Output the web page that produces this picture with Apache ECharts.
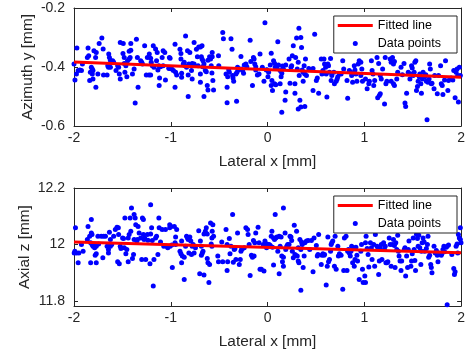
<!DOCTYPE html>
<html>
<head>
<meta charset="utf-8">
<script src="https://cdn.jsdelivr.net/npm/echarts@6/dist/echarts.min.js"></script>
<style>
  html, body { margin: 0; padding: 0; background: #fff; }
  #chart { width: 468px; height: 350px; }
</style>
</head>
<body>
<div id="chart"></div>
<script>
// tick values
const xTicks = [-2, -1, 0, 1, 2];
const azimuthTicks = [-0.6, -0.4, -0.2];
const axialTicks = [11.8, 12, 12.2];

// fitted lines (end points)
const fitX = [-2, 2];
const fitAzimuth = [-0.383, -0.435];
const fitAxial = [12.009, 11.971];

// measured points, top panel: [lateral x, azimuth y]
const azimuthPoints = [
  [-2.00,-0.390],[-1.97,-0.336],[-1.99,-0.444],[-1.975,-0.424],[-1.957,-0.412],[-1.94,-0.410],[-1.923,-0.412],[-1.913,-0.390],
  [-1.862,-0.368],[-1.848,-0.362],[-1.855,-0.336],[-1.838,-0.446],[-1.831,-0.418],[-1.821,-0.401],[-1.811,-0.407],[-1.804,-0.412],
  [-1.811,-0.424],[-1.794,-0.345],[-1.777,-0.368],[-1.77,-0.351],[-1.804,-0.441],[-1.774,-0.469],[-1.753,-0.424],[-1.74,-0.320],
  [-1.712,-0.302],[-1.699,-0.339],[-1.695,-0.427],[-1.658,-0.427],[-1.641,-0.356],[-1.634,-0.368],[-1.624,-0.377],[-1.617,-0.384],
  [-1.651,-0.396],[-1.644,-0.401],[-1.624,-0.401],[-1.60,-0.379],[-1.59,-0.384],[-1.566,-0.412],[-1.549,-0.396],[-1.539,-0.401],
  [-1.532,-0.424],[-1.522,-0.441],[-1.522,-0.317],[-1.491,-0.320],[-1.494,-0.354],[-1.481,-0.368],[-1.481,-0.388],[-1.464,-0.396],
  [-1.447,-0.379],[-1.43,-0.373],[-1.42,-0.368],[-1.43,-0.347],[-1.413,-0.343],[-1.413,-0.320],[-1.474,-0.418],[-1.454,-0.433],
  [-1.396,-0.424],[-1.379,-0.407],[-1.355,-0.306],[-1.345,-0.368],[-1.338,-0.469],[-1.368,-0.522],[-1.311,-0.379],[-1.30,-0.384],
  [-1.293,-0.390],[-1.27,-0.328],[-1.253,-0.427],[-1.225,-0.427],[-1.208,-0.427],[-1.242,-0.368],[-1.222,-0.356],[-1.208,-0.370],
  [-1.202,-0.384],[-1.191,-0.396],[-1.174,-0.401],[-1.181,-0.328],[-1.157,-0.339],[-1.14,-0.351],[-1.147,-0.379],[-1.123,-0.396],
  [-1.133,-0.410],[-1.116,-0.437],[-1.12,-0.463],[-1.089,-0.368],[-1.079,-0.345],[-1.062,-0.351],[-1.106,-0.399],[-1.079,-0.396],
  [-1.055,-0.444],[-1.021,-0.404],[-1.014,-0.368],
  [-1.007,-0.370],[-1.014,-0.405],[-0.99,-0.407],[-0.973,-0.412],[-0.956,-0.323],[-0.95,-0.418],[-0.939,-0.427],[-0.956,-0.469],
  [-0.905,-0.340],[-0.895,-0.354],[-0.895,-0.373],[-0.888,-0.421],[-0.888,-0.435],[-0.871,-0.390],[-0.861,-0.384],[-0.847,-0.295],
  [-0.854,-0.396],[-0.837,-0.401],[-0.827,-0.345],[-0.82,-0.427],[-0.82,-0.500],[-0.813,-0.390],[-0.803,-0.351],[-0.793,-0.396],
  [-0.786,-0.412],[-0.779,-0.388],[-0.779,-0.441],[-0.759,-0.317],[-0.759,-0.390],[-0.735,-0.340],[-0.725,-0.365],[-0.718,-0.396],
  [-0.711,-0.332],[-0.694,-0.332],[-0.677,-0.328],[-0.694,-0.424],[-0.694,-0.452],[-0.684,-0.365],[-0.677,-0.373],[-0.667,-0.379],
  [-0.657,-0.390],[-0.67,-0.399],[-0.657,-0.500],[-0.643,-0.412],[-0.633,-0.416],[-0.623,-0.463],[-0.616,-0.478],[-0.616,-0.377],
  [-0.599,-0.365],[-0.589,-0.373],[-0.572,-0.365],[-0.582,-0.396],[-0.572,-0.351],[-0.565,-0.446],[-0.558,-0.478],[-0.575,-0.420],
  [-0.507,-0.362],[-0.504,-0.396],[-0.463,-0.283],[-0.456,-0.304],[-0.429,-0.424],[-0.418,-0.469],[-0.418,-0.521],[-0.412,-0.433],
  [-0.401,-0.410],[-0.395,-0.418],[-0.378,-0.304],[-0.367,-0.340],[-0.361,-0.429],[-0.357,-0.437],[-0.35,-0.448],[-0.327,-0.424],
  [-0.316,-0.418],[-0.32,-0.516],[-0.31,-0.401],[-0.303,-0.410],[-0.275,-0.364],[-0.275,-0.407],[-0.258,-0.412],[-0.248,-0.421],
  [-0.241,-0.393],[-0.224,-0.390],[-0.214,-0.399],[-0.18,-0.309],[-0.173,-0.381],[-0.156,-0.463],[-0.146,-0.368],[-0.139,-0.373],
  [-0.132,-0.390],[-0.122,-0.399],[-0.122,-0.410],[-0.105,-0.427],[-0.088,-0.424],[-0.078,-0.356],[-0.054,-0.401],[-0.037,-0.448],
  [-0.027,-0.250],[-0.013,-0.410],
  [-0.006,-0.409],[0.004,-0.433],[0.011,-0.418],[0.028,-0.393],[0.038,-0.463],[0.045,-0.446],[0.051,-0.480],[0.038,-0.353],
  [0.062,-0.379],[0.072,-0.387],[0.079,-0.401],[0.089,-0.396],[0.072,-0.457],[0.085,-0.460],[0.106,-0.314],[0.096,-0.401],
  [0.113,-0.393],[0.13,-0.412],[0.14,-0.433],[0.147,-0.421],[0.13,-0.457],[0.154,-0.397],[0.164,-0.407],[0.181,-0.513],
  [0.188,-0.485],[0.147,-0.553],[0.188,-0.393],[0.222,-0.373],[0.232,-0.455],[0.242,-0.401],[0.249,-0.396],[0.256,-0.362],
  [0.266,-0.328],[0.283,-0.457],[0.283,-0.489],[0.29,-0.368],[0.30,-0.302],[0.307,-0.407],[0.317,-0.384],[0.324,-0.269],
  [0.344,-0.300],[0.327,-0.429],[0.334,-0.513],[0.344,-0.536],[0.317,-0.542],[0.351,-0.334],[0.358,-0.410],[0.368,-0.448],
  [0.368,-0.418],[0.378,-0.396],[0.385,-0.424],[0.385,-0.534],[0.392,-0.373],[0.402,-0.429],[0.426,-0.405],[0.47,-0.405],
  [0.487,-0.289],[0.47,-0.480],[0.504,-0.446],[0.514,-0.437],[0.528,-0.489],[0.555,-0.373],[0.562,-0.424],[0.572,-0.412],
  [0.583,-0.373],[0.589,-0.390],[0.60,-0.401],[0.606,-0.424],[0.613,-0.502],[0.623,-0.390],[0.63,-0.396],[0.64,-0.418],
  [0.657,-0.446],[0.664,-0.429],[0.651,-0.371],[0.685,-0.418],[0.691,-0.457],[0.709,-0.448],[0.719,-0.441],[0.726,-0.433],
  [0.743,-0.424],[0.76,-0.424],[0.777,-0.379],[0.787,-0.407],[0.821,-0.446],[0.828,-0.506],[0.845,-0.412],[0.862,-0.418],
  [0.869,-0.429],[0.879,-0.452],[0.896,-0.396],[0.903,-0.410],[0.913,-0.424],[0.923,-0.448],[0.937,-0.390],[0.947,-0.379],
  [0.964,-0.384],[0.974,-0.407],[0.981,-0.448],[0.964,-0.429],
  [1.012,-0.441],[1.029,-0.474],[1.046,-0.457],[1.052,-0.448],[1.073,-0.379],[1.08,-0.412],[1.09,-0.424],[1.097,-0.463],
  [1.107,-0.446],[1.131,-0.368],[1.138,-0.504],[1.148,-0.388],[1.155,-0.497],[1.165,-0.491],[1.165,-0.429],[1.175,-0.441],
  [1.189,-0.407],[1.209,-0.525],[1.216,-0.368],[1.223,-0.457],[1.233,-0.448],[1.267,-0.373],[1.277,-0.384],[1.291,-0.368],
  [1.301,-0.390],[1.311,-0.381],[1.277,-0.448],[1.301,-0.457],[1.311,-0.463],[1.335,-0.441],[1.345,-0.418],[1.379,-0.401],
  [1.393,-0.426],[1.41,-0.388],[1.42,-0.522],[1.427,-0.534],[1.437,-0.489],[1.454,-0.418],[1.471,-0.441],[1.481,-0.424],
  [1.488,-0.396],[1.495,-0.403],[1.505,-0.429],[1.515,-0.418],[1.522,-0.384],[1.532,-0.379],[1.539,-0.480],[1.549,-0.466],
  [1.556,-0.448],[1.567,-0.433],[1.573,-0.424],[1.584,-0.457],[1.59,-0.489],[1.60,-0.441],[1.607,-0.418],[1.618,-0.433],
  [1.624,-0.433],[1.635,-0.426],[1.641,-0.448],[1.648,-0.579],[1.658,-0.452],[1.669,-0.441],[1.675,-0.390],[1.682,-0.407],
  [1.692,-0.457],[1.699,-0.455],[1.72,-0.474],[1.727,-0.429],[1.754,-0.491],[1.767,-0.429],[1.788,-0.396],[1.795,-0.457],
  [1.805,-0.463],[1.812,-0.493],[1.829,-0.444],[1.839,-0.379],[1.863,-0.480],[1.87,-0.446],[1.897,-0.437],[1.914,-0.444],
  [1.924,-0.412],[1.938,-0.504],[1.948,-0.418],[1.958,-0.407],[1.965,-0.429],[1.972,-0.519],[1.982,-0.401],[1.992,-0.429]
];

// measured points, bottom panel: [lateral x, axial z]
const axialPoints = [
  [-1.985,12.059],[-1.991,11.976],[-1.998,11.970],[-1.975,11.970],[-1.957,11.935],[-1.95,11.970],[-1.923,12.000],[-1.906,11.976],
  [-1.862,12.018],[-1.855,12.064],[-1.838,12.029],[-1.828,11.935],[-1.821,12.088],[-1.821,12.041],[-1.814,12.035],[-1.828,12.006],
  [-1.814,12.000],[-1.804,11.994],[-1.794,12.000],[-1.787,11.988],[-1.77,11.994],[-1.781,11.962],[-1.77,11.967],[-1.77,11.935],
  [-1.753,12.029],[-1.746,12.002],[-1.719,12.029],[-1.702,11.953],[-1.695,12.029],[-1.675,12.029],[-1.658,11.994],[-1.644,11.982],
  [-1.634,12.000],[-1.624,11.994],[-1.644,11.970],[-1.634,12.043],[-1.624,12.018],[-1.61,12.000],[-1.59,12.029],[-1.573,12.053],
  [-1.556,12.061],[-1.542,12.059],[-1.549,11.939],[-1.532,11.932],[-1.539,12.035],[-1.522,11.994],[-1.515,11.986],[-1.498,12.023],
  [-1.488,12.021],[-1.481,11.988],[-1.474,12.094],[-1.464,11.967],[-1.454,11.982],[-1.44,12.023],[-1.44,11.939],[-1.43,12.035],
  [-1.42,12.094],[-1.413,12.047],[-1.406,12.129],[-1.396,11.950],[-1.385,11.964],[-1.379,12.106],[-1.368,12.094],[-1.362,12.070],
  [-1.379,12.018],[-1.351,12.012],[-1.345,12.018],[-1.338,12.064],[-1.327,12.041],[-1.311,12.023],[-1.30,11.947],[-1.293,12.094],
  [-1.283,12.088],[-1.283,12.035],[-1.276,12.018],[-1.27,12.023],[-1.259,11.947],[-1.242,12.035],[-1.236,12.015],[-1.215,11.932],
  [-1.208,12.141],[-1.208,12.037],[-1.198,12.059],[-1.191,12.014],[-1.181,11.853],[-1.174,11.947],[-1.157,12.023],[-1.147,12.029],
  [-1.133,11.964],[-1.123,12.094],[-1.12,12.059],[-1.106,12.009],[-1.089,12.053],[-1.072,11.994],[-1.055,12.053],[-1.045,11.994],
  [-1.031,11.988],[-1.011,12.070],[-1.011,12.059],
  [-1.007,11.994],[-0.99,11.998],[-0.997,12.064],[-0.963,12.064],[-0.95,12.026],[-0.956,12.006],[-0.95,12.000],[-0.939,12.053],
  [-0.984,11.918],[-0.905,11.976],[-0.895,11.967],[-0.888,11.935],[-0.888,12.012],[-0.881,11.959],[-0.861,11.955],[-0.861,11.876],
  [-0.847,11.994],[-0.837,12.029],[-0.827,12.023],[-0.82,12.018],[-0.813,11.970],[-0.803,12.026],[-0.793,12.012],[-0.786,11.964],
  [-0.779,11.994],[-0.769,12.000],[-0.759,11.970],[-0.745,11.988],[-0.711,12.049],[-0.701,11.896],[-0.694,12.012],[-0.684,11.994],
  [-0.684,11.962],[-0.674,11.970],[-0.667,11.976],[-0.657,11.892],[-0.657,12.037],[-0.643,12.047],[-0.633,12.059],[-0.623,12.037],
  [-0.623,11.950],[-0.616,11.935],[-0.606,11.865],[-0.599,11.929],[-0.589,12.076],[-0.582,12.002],[-0.575,11.994],[-0.572,12.047],
  [-0.565,12.070],[-0.558,12.029],[-0.575,12.023],[-0.514,11.959],[-0.507,11.939],[-0.473,12.009],[-0.463,11.939],[-0.429,12.053],
  [-0.418,11.908],[-0.412,11.939],[-0.418,12.000],[-0.395,12.021],[-0.388,11.967],[-0.378,11.994],[-0.361,12.106],[-0.354,11.937],
  [-0.344,11.982],[-0.337,11.986],[-0.327,11.947],[-0.31,12.041],[-0.292,11.929],[-0.282,11.947],[-0.275,11.976],[-0.269,11.982],
  [-0.258,11.986],[-0.241,11.988],[-0.224,12.059],[-0.207,12.053],[-0.201,12.035],[-0.19,12.000],[-0.18,11.890],[-0.167,11.962],
  [-0.156,11.955],[-0.139,11.959],[-0.146,12.014],[-0.132,12.006],[-0.122,12.041],[-0.098,12.061],[-0.088,12.006],[-0.078,11.912],
  [-0.064,11.912],[-0.037,11.906],[-0.044,12.000],[-0.027,12.012],[-0.01,11.988],
  [-0.006,12.002],[0.004,11.994],[0.017,12.000],[0.028,11.996],[0.038,12.029],[0.045,12.047],[0.051,11.990],[0.062,12.023],
  [0.062,11.927],[0.072,12.018],[0.079,12.106],[0.085,12.023],[0.096,12.026],[0.106,11.976],[0.12,12.029],[0.12,11.896],
  [0.13,11.994],[0.14,12.026],[0.147,11.959],[0.154,11.939],[0.164,12.129],[0.164,11.955],[0.164,11.923],[0.181,12.041],
  [0.188,11.982],[0.198,11.994],[0.208,12.000],[0.222,12.000],[0.232,12.029],[0.242,12.026],[0.249,12.014],[0.256,11.976],
  [0.266,11.953],[0.276,12.068],[0.283,11.964],[0.29,11.962],[0.30,12.047],[0.307,11.959],[0.317,11.988],[0.317,11.941],
  [0.324,11.935],[0.334,12.018],[0.344,11.838],[0.344,11.982],[0.351,12.009],[0.358,12.000],[0.368,11.918],[0.378,11.959],
  [0.385,12.006],[0.402,12.012],[0.419,12.014],[0.436,11.982],[0.453,12.014],[0.47,11.903],[0.48,12.023],[0.504,11.996],
  [0.514,11.959],[0.521,11.964],[0.528,12.035],[0.555,11.929],[0.562,11.962],[0.572,11.967],[0.583,11.962],[0.589,11.964],
  [0.606,11.856],[0.617,11.923],[0.623,12.026],[0.63,11.939],[0.64,11.947],[0.651,11.976],[0.657,12.000],[0.664,12.006],
  [0.674,12.012],[0.691,11.923],[0.698,12.029],[0.709,11.912],[0.726,11.994],[0.732,11.959],[0.743,11.967],[0.76,11.962],
  [0.777,11.841],[0.787,11.908],[0.794,12.023],[0.811,12.029],[0.821,11.908],[0.828,11.976],[0.835,11.982],[0.845,11.970],
  [0.855,11.959],[0.862,11.976],[0.869,11.994],[0.879,11.935],[0.889,11.988],[0.896,11.923],[0.903,11.947],[0.913,11.990],
  [0.923,11.962],[0.93,11.941],[0.947,11.876],[0.964,11.976],[0.971,12.000],[0.981,11.912],[0.988,11.865],
  [1.012,12.006],[1.018,12.029],[1.029,11.986],[1.039,11.964],[1.046,11.920],[1.005,11.888],[1.012,11.865],[1.063,12.006],
  [1.073,11.988],[1.08,11.947],[1.097,12.000],[1.107,11.923],[1.114,12.035],[1.131,11.994],[1.141,11.988],[1.148,11.894],
  [1.155,11.941],[1.165,11.988],[1.175,12.000],[1.182,11.947],[1.199,12.006],[1.209,11.982],[1.216,11.994],[1.223,11.935],
  [1.233,11.935],[1.243,11.939],[1.257,12.023],[1.267,12.000],[1.277,11.923],[1.291,12.000],[1.301,12.018],[1.311,11.996],
  [1.318,11.918],[1.325,12.006],[1.335,11.982],[1.345,12.033],[1.352,11.976],[1.359,11.959],[1.369,11.941],[1.379,11.908],
  [1.386,11.941],[1.413,11.982],[1.42,11.988],[1.427,11.888],[1.437,11.959],[1.447,11.918],[1.454,11.982],[1.461,12.012],
  [1.481,11.923],[1.488,11.941],[1.495,11.967],[1.505,12.023],[1.515,11.982],[1.522,11.943],[1.529,11.908],[1.539,12.035],
  [1.549,12.021],[1.556,11.994],[1.563,12.033],[1.573,11.988],[1.584,11.929],[1.59,11.976],[1.597,12.006],[1.607,12.023],
  [1.618,12.009],[1.624,11.976],[1.641,11.986],[1.652,12.000],[1.658,12.029],[1.665,11.955],[1.675,11.962],[1.686,11.929],
  [1.692,11.918],[1.699,11.900],[1.72,11.994],[1.733,11.970],[1.744,11.979],[1.754,11.962],[1.761,11.939],[1.767,11.970],
  [1.788,11.964],[1.795,11.962],[1.801,11.967],[1.812,11.982],[1.822,11.994],[1.829,11.974],[1.846,11.990],[1.856,11.994],
  [1.87,11.998],[1.856,11.786],[1.904,11.964],[1.924,11.915],[1.931,11.894],[1.938,11.903],[1.948,11.994],[1.958,12.002],
  [1.965,11.970],[1.972,12.035],[1.992,12.059],[1.982,12.023],[1.992,12.018],[1.999,12.006]
];

const FONT = '"Liberation Sans", Arial, Helvetica, sans-serif';
const AX = '#262626';

const chart = echarts.init(document.getElementById('chart'), null, { renderer: 'canvas' });

function xAxis(gridIndex, position, showLabels) {
  return {
    type: 'value', gridIndex, position, min: -2, max: 2,
    name: showLabels ? 'Lateral x [mm]' : '',
    nameLocation: 'middle', nameGap: 28, nameMoveOverlap: false,
    nameTextStyle: { color: AX, fontSize: 15.4, fontFamily: FONT },
    axisLine: { show: true, onZero: false, lineStyle: { color: AX, width: 1 } },
    axisTick: { show: true, inside: true, length: 4, customValues: xTicks, lineStyle: { color: AX } },
    axisLabel: { show: showLabels, customValues: xTicks, margin: 5, color: AX, fontSize: 14, fontFamily: FONT },
    splitLine: { show: false }
  };
}

function yAxis(gridIndex, position, min, max, ticks, title, gap) {
  const labels = position === 'left';
  return {
    type: 'value', gridIndex, position, min, max,
    name: labels ? title : '',
    nameLocation: 'middle', nameGap: gap, nameMoveOverlap: false,
    nameTextStyle: { color: AX, fontSize: 15.4, fontFamily: FONT },
    axisLine: { show: true, onZero: false, lineStyle: { color: AX, width: 1 } },
    axisTick: { show: true, inside: true, length: 4, customValues: ticks, lineStyle: { color: AX } },
    axisLabel: { show: labels, customValues: ticks, margin: 9, color: AX, fontSize: 14, fontFamily: FONT },
    splitLine: { show: false }
  };
}

function legendAt(top) {
  return {
    orient: 'vertical', right: 11, top,
    data: [
      { name: 'Fitted line', icon: 'path://M0 0H35V3H0Z' },
      { name: 'Data points', icon: 'circle' }
    ],
    itemWidth: 35, itemHeight: 5, itemGap: 3, itemTextGap: 4,
    padding: [2, 16, 2, 4],
    backgroundColor: '#fff', borderColor: AX, borderWidth: 1,
    selectedMode: false,
    textStyle: { color: '#000', fontSize: 12.5, lineHeight: 15, fontFamily: FONT }
  };
}

const lineStyle = { color: '#ff0000', width: 3 };
const dotStyle = { color: '#0000ff', opacity: 1 };

chart.setOption({
  animation: false,
  backgroundColor: '#fff',
  grid: [
    { left: 74, top: 8, width: 391, height: 118 },
    { left: 74, top: 188, width: 391, height: 118 }
  ],
  xAxis: [
    xAxis(0, 'bottom', true), xAxis(0, 'top', false),
    xAxis(1, 'bottom', true), xAxis(1, 'top', false)
  ],
  yAxis: [
    yAxis(0, 'left', -0.6, -0.2, azimuthTicks, 'Azimuth y [mm]', 39),
    yAxis(0, 'right', -0.6, -0.2, azimuthTicks, '', 0),
    yAxis(1, 'left', 11.782, 12.2, axialTicks, 'Axial z [mm]', 42),
    yAxis(1, 'right', 11.782, 12.2, axialTicks, '', 0)
  ],
  legend: [legendAt(16), legendAt(196)],
  series: [
    {
      name: 'Fitted line', type: 'line', xAxisIndex: 0, yAxisIndex: 0,
      data: fitX.map((x, i) => [x, fitAzimuth[i]]),
      symbol: 'none', lineStyle, itemStyle: { color: '#ff0000' }, silent: true
    },
    {
      name: 'Data points', type: 'scatter', xAxisIndex: 0, yAxisIndex: 0,
      data: azimuthPoints, symbolSize: 5, itemStyle: dotStyle
    },
    {
      name: 'Fitted line', type: 'line', xAxisIndex: 2, yAxisIndex: 2,
      data: fitX.map((x, i) => [x, fitAxial[i]]),
      symbol: 'none', lineStyle, itemStyle: { color: '#ff0000' }, silent: true
    },
    {
      name: 'Data points', type: 'scatter', xAxisIndex: 2, yAxisIndex: 2,
      data: axialPoints, symbolSize: 5, itemStyle: dotStyle
    }
  ]
});
</script>
</body>
</html>
